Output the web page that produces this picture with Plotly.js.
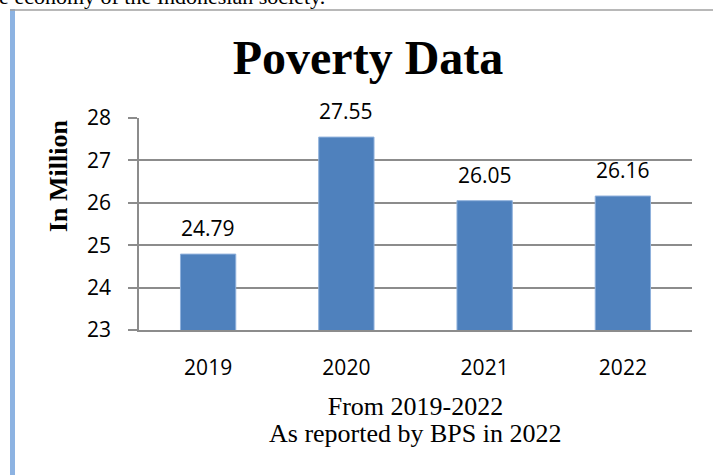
<!DOCTYPE html>
<html>
<head>
<meta charset="utf-8">
<script src="https://cdn.plot.ly/plotly-3.0.1.min.js"></script>
<style>
html,body{margin:0;padding:0;background:#fff;}
#chart{width:713px;height:475px;}
</style>
</head>
<body>
<div id="chart"></div>
<script>
// ---- data ----
const years = ["2019", "2020", "2021", "2022"];
const poverty = [24.79, 27.55, 26.05, 26.16];
const valueLabels = ["24.79", "27.55", "26.05", "26.16"];
const yTicks = [23, 24, 25, 26, 27, 28];
const yTickText = ["23", "24", "25", "26", "27", "28"];
const subtitleLines = ["From 2019-2022", "As reported by BPS in 2022"];

// ---- layout helpers ----
const W = 713, H = 475;
const ml = 139, mr = 21, mt = 118, mb = 145;
const px2x = p => (p - ml) / (W - ml - mr);
const py2y = p => 1 - (p - mt) / (H - mt - mb);

const sansFont = {family: "Open Sans, Noto Sans, sans-serif", size: 21, color: "#000"};
const serif = "Liberation Serif, Times New Roman, serif";
const gridCol = "#8c8c8c";

const trace = {
  type: "bar",
  x: years,
  y: poverty,
  marker: {color: "#4f81bd", line: {color: "#8fb1dc", width: 1}},
  hoverinfo: "x+y",
  cliponaxis: false
};

// category axis: annotations are positioned by category index
const barLabels = years.map((yr, i) => ({
  x: years.indexOf(yr), y: poverty[i], xref: "x", yref: "y",
  text: valueLabels[i], showarrow: false,
  yanchor: "middle", yshift: 26,
  font: sansFont
}));

const layout = {
  width: W, height: H,
  margin: {l: ml, r: mr, t: mt, b: mb},
  paper_bgcolor: "#fff", plot_bgcolor: "#fff",
  showlegend: false,
  bargap: 0.6,
  title: {
    text: "<b>Poverty Data</b>",
    font: {family: serif, size: 48, color: "#000"},
    x: 368 / W, xanchor: "center", xref: "container",
    y: 1 - 57 / H, yanchor: "middle", yref: "container"
  },
  xaxis: {
    type: "category",
    categoryorder: "array", categoryarray: years,
    range: [-0.5, years.length - 0.5],
    showgrid: false,
    showline: true, linecolor: gridCol, linewidth: 1.5,
    ticks: "", ticklabelstandoff: 18,
    tickfont: sansFont,
    title: {
      text: subtitleLines[0],
      font: {family: serif, size: 26, color: "#000"},
      standoff: 17
    },
    fixedrange: true
  },
  yaxis: {
    range: [23, 28],
    tickvals: yTicks, ticktext: yTickText,
    showgrid: true, gridcolor: gridCol, gridwidth: 1.5,
    showline: true, linecolor: gridCol, linewidth: 1.5,
    zeroline: false,
    ticks: "outside", ticklen: 9, tickcolor: gridCol, tickwidth: 1.5,
    ticklabelstandoff: 13,
    tickfont: sansFont,
    fixedrange: true
  },
  annotations: barLabels.concat([
    {
      text: subtitleLines[1],
      xref: "paper", yref: "paper",
      x: 0.5, y: py2y(433), xanchor: "center", yanchor: "middle",
      showarrow: false,
      font: {family: serif, size: 26, color: "#000"}
    },
    {
      text: "<b>In Million</b>", textangle: -90,
      xref: "paper", yref: "paper",
      x: px2x(58), y: py2y(176), xanchor: "center", yanchor: "middle",
      showarrow: false,
      font: {family: serif, size: 26, color: "#000"}
    },
    {
      text: "the economy of the Indonesian society.",
      xref: "paper", yref: "paper",
      x: px2x(327), y: py2y(-3), xanchor: "right", yanchor: "middle",
      showarrow: false,
      font: {family: serif, size: 22, color: "#000"}
    }
  ]),
  shapes: [
    {type: "rect", xref: "paper", yref: "paper",
     x0: px2x(10), x1: px2x(15), y0: py2y(480), y1: py2y(9),
     fillcolor: "#8db3e2", line: {width: 0}, layer: "above"},
    {type: "line", xref: "paper", yref: "paper",
     x0: px2x(10), x1: px2x(720), y0: py2y(10), y1: py2y(10),
     line: {color: "#a0a0a0", width: 1.5}, layer: "above"}
  ]
};

Plotly.newPlot("chart", [trace], layout, {displayModeBar: false});
</script>
</body>
</html>
